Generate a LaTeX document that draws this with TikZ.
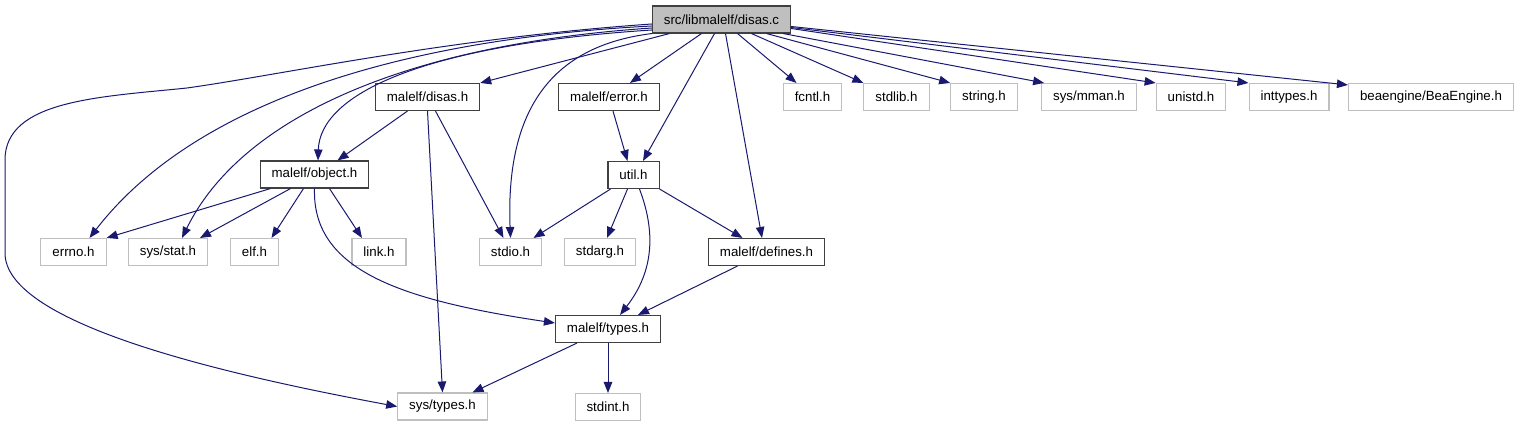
\documentclass[tikz,border=0pt]{standalone}
\usepackage{fontspec}
\setmainfont{Liberation Sans}
\usepackage{tikz}
\usetikzlibrary{arrows.meta}
\definecolor{edgeblue}{HTML}{191970}
\definecolor{extgray}{HTML}{BFBFBF}
\definecolor{boxborder}{HTML}{404040}
\tikzset{
incfile/.style={
draw=boxborder,
fill=white,
line width=1.1pt,
minimum height=27pt,
inner xsep=11.5pt,
inner ysep=0pt,
font=\fontsize{13.3}{15}\selectfont
},
extfile/.style={
incfile,
draw=extgray
},
srcfile/.style={
incfile,
draw=boxborder,
fill=extgray
},
dep/.style={
-{Triangle[length=11pt,width=8.5pt]},
line width=1pt,
draw=edgeblue
}
}

\begin{document}
\begin{tikzpicture}[x=1pt,y=-1pt]
\useasboundingbox (0,0) rectangle (1515,427);

\node[srcfile] (disasc) at (721.5,19.5) {src/libmalelf/disas.c};

\node[incfile] (disash) at (427.5,97) {malelf/disas.h};
\node[incfile] (errorh) at (609,97) {malelf/error.h};
\node[extfile] (fcntl) at (812.5,97) {fcntl.h};
\node[extfile] (stdlib) at (896.5,97) {stdlib.h};
\node[extfile] (string) at (984,97) {string.h};
\node[extfile] (mman) at (1089,97) {sys/mman.h};
\node[extfile] (unistd) at (1191,97) {unistd.h};
\node[extfile] (inttypes) at (1289,97) {inttypes.h};
\node[extfile] (bea) at (1431,97) {beaengine/BeaEngine.h};

\node[incfile] (objecth) at (314.5,174.5) {malelf/object.h};
\node[incfile] (utilh) at (633.5,175) {util.h};

\node[extfile] (errno) at (73.5,252) {errno.h};
\node[extfile] (sysstat) at (168,252) {sys/stat.h};
\node[extfile] (elf) at (254.5,252) {elf.h};
\node[extfile] (link) at (379,252) {link.h};
\node[extfile] (stdio) at (510.5,252) {stdio.h};
\node[extfile] (stdarg) at (600,252) {stdarg.h};
\node[incfile] (defines) at (766.5,252) {malelf/defines.h};

\node[incfile] (types) at (608,329) {malelf/types.h};

\node[extfile] (systypes) at (442.5,406.5) {sys/types.h};
\node[extfile] (stdint) at (608,407) {stdint.h};

% disas.c
\draw[dep] ([yshift=-4.5pt]disasc.west) .. controls (450,38) and (280,75) .. (187,88)
  .. controls (100,97) and (5,100) .. (5,160) -- (5,253)
  .. controls (5,320) and (200,370) .. (systypes.west);
\draw[dep] ([yshift=-6.5pt]disasc.west) .. controls (420,38) and (200,95) .. ([xshift=16pt]errno.north);
\draw[dep] ([yshift=-8.5pt]disasc.west) .. controls (400,45) and (240,120) .. ([xshift=14pt]sysstat.north);
\draw[dep] ([yshift=-10.5pt]disasc.west) .. controls (420,45) and (320,95) .. ([xshift=3.5pt]objecth.north);
\draw[dep] (disasc.south west) .. controls (560,45) and (505,100) .. (stdio.north);
\draw[dep] ([xshift=-52pt]disasc.south) -- (disash.north east);
\draw[dep] ([xshift=-20pt]disasc.south) -- ([xshift=21pt]errorh.north);
\draw[dep] ([xshift=-7pt]disasc.south) -- ([xshift=9.5pt]utilh.north);
\draw[dep] ([xshift=4pt]disasc.south) -- ([xshift=-4.5pt]defines.north);
\draw[dep] ([xshift=16pt]disasc.south) -- ([xshift=-16pt]fcntl.north);
\draw[dep] ([xshift=30pt]disasc.south) -- (stdlib.north west);
\draw[dep] ([xshift=45pt]disasc.south) -- (string.north west);
\draw[dep] ([xshift=-8pt]disasc.south east) -- ([xshift=3pt]mman.north west);
\draw[dep] ([yshift=-9pt]disasc.east) -- (unistd.north west);
\draw[dep] ([yshift=-8pt]disasc.east) -- (inttypes.north west);
\draw[dep] ([yshift=-7pt]disasc.east) -- ([yshift=-2pt]bea.north west);

% disas.h, error.h
\draw[dep] ([xshift=-20pt]disash.south) -- ([xshift=23pt]objecth.north);
\draw[dep] (disash.south) -- (systypes.north);
\draw[dep] ([xshift=8pt]disash.south) -- ([xshift=-7pt]stdio.north);
\draw[dep] ([xshift=4pt]errorh.south) -- ([xshift=-6pt]utilh.north);

% object.h
\draw[dep] ([xshift=-44pt]objecth.south) -- (errno.north east);
\draw[dep] ([xshift=-24pt]objecth.south) -- ([xshift=32pt]sysstat.north);
\draw[dep] ([xshift=-11pt]objecth.south) -- ([xshift=17pt]elf.north);
\draw[dep] ([xshift=15pt]objecth.south) -- ([xshift=-17pt]link.north);
\draw[dep] (objecth.south) .. controls (312,270) and (400,300) .. ([yshift=6pt]types.west);

% util.h
\draw[dep] ([xshift=-23pt]utilh.south) -- ([xshift=23pt]stdio.north);
\draw[dep] ([xshift=-6pt]utilh.south) -- ([xshift=7pt]stdarg.north);
\draw[dep] ([xshift=6pt]utilh.south) .. controls (655,230) and (655,270) .. ([xshift=12pt]types.north);
\draw[dep] (utilh.south east) -- ([xshift=-24pt]defines.north);

% defines.h, types.h
\draw[dep] ([xshift=-29pt]defines.south) -- ([xshift=30pt]types.north);
\draw[dep] ([xshift=-31pt]types.south) -- ([xshift=30pt]systypes.north);
\draw[dep] (types.south) -- (stdint.north);

\end{tikzpicture}
\end{document}
